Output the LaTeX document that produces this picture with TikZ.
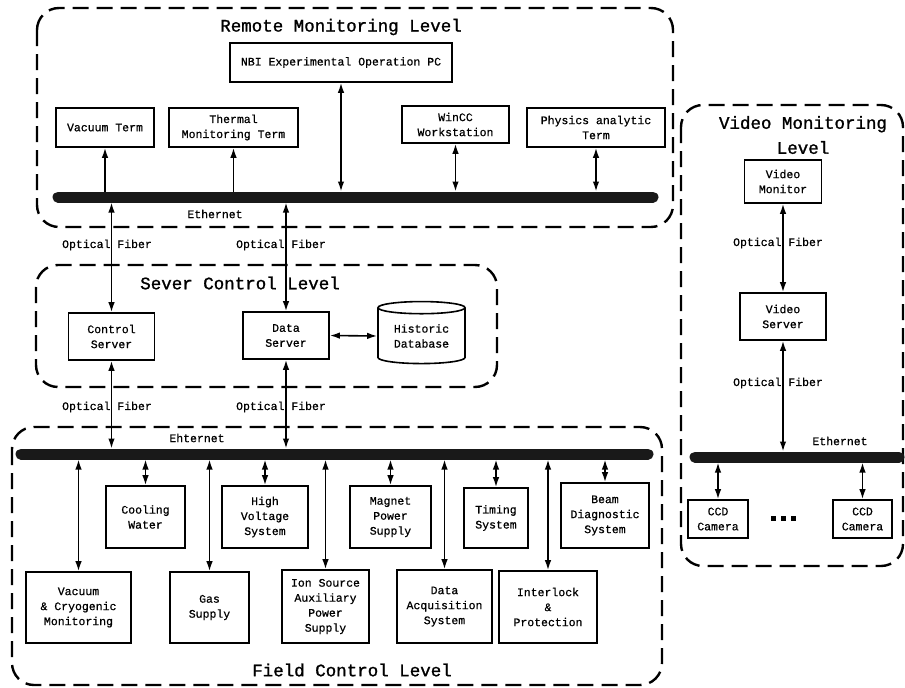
\documentclass[tikz,border=0pt]{standalone}
\usepackage{fontspec}
\setmainfont{Liberation Mono}
\newfontfamily\boxfont[FakeBold=0.7]{Liberation Mono}
\newfontfamily\titlefont[FakeBold=1.2]{Liberation Mono}
\usetikzlibrary{arrows.meta,shapes.geometric}
\begin{document}
\begin{tikzpicture}[x=1pt,y=-1pt,
  level/.style={draw, line width=2.4pt, dash pattern=on 16pt off 8pt, rounded corners=22pt},
  bx/.style={draw, line width=1.6pt, align=center, font=\boxfont\fontsize{11.5}{15}\selectfont, inner sep=0pt},
  bus/.style={line width=11pt, line cap=round, black!90},
  lbl/.style={font=\boxfont\fontsize{11.5}{14}\selectfont, inner sep=0pt},
  ttl/.style={font=\titlefont\fontsize{17.5}{25}\selectfont, align=center, inner sep=0pt},
  arr/.style={line width=1.6pt, {Latex[length=10pt,width=6.5pt]}-{Latex[length=10pt,width=6.5pt]}},
  uarr/.style={line width=1.6pt, -{Latex[length=10pt,width=6.5pt]}},
]
\useasboundingbox (0,0) rectangle (905,688);

% ---------- level frames ----------
\draw[level] (37,8) rectangle (673,227);
\draw[level] (36,265) rectangle (497,387);
\draw[level] (12,427) rectangle (662,685);
\draw[level] (681,105) rectangle (903,566);

% ---------- titles ----------
\node[ttl] (tRemote) at (341,27) {Remote Monitoring Level};
\node[ttl] (tServer) at (240,283) {Sever Control Level};
\node[ttl] (tField) at (352,670) {Field Control Level};
\node[ttl] (tVideo) at (803,135) {Video Monitoring\\Level};

% ---------- Remote monitoring level ----------
\coordinate (rb1) at (58,197);
\coordinate (rb2) at (653,197);
\coordinate (rbT) at (0,191.5);
\coordinate (rbB) at (0,202.5);
\draw[bus] (rb1) -- (rb2);
\node[lbl] (eth1) at (215,214) {Ethernet};

\node[bx, minimum width=222pt, minimum height=39pt] (nbi) at (341,62.5) {NBI Experimental Operation PC};
\node[bx, minimum width=98pt, minimum height=39pt] (vt) at (105,127.5) {Vacuum Term};
\node[bx, minimum width=129pt, minimum height=39pt] (tt) at (233.5,127.5) {Thermal\\Monitoring Term};
\node[bx, minimum width=107pt, minimum height=37pt] (wc) at (455.5,124.5) {WinCC\\Workstation};
\node[bx, minimum width=138pt, minimum height=39pt] (pa) at (596,127.5) {Physics analytic\\Term};

\draw[uarr] (vt.south |- rbT) -- (vt.south);
\draw[uarr] (tt.south |- rbT) -- (tt.south);
\draw[arr] (nbi.south |- rbT) -- (nbi.south);
\draw[arr] (wc.south |- rbT) -- (wc.south);
\draw[arr] (pa.south |- rbT) -- (pa.south);

% ---------- Server control level ----------
\node[bx, minimum width=86pt, minimum height=47pt] (cs) at (111.5,336.5) {Control\\Server};
\node[bx, minimum width=86pt, minimum height=47pt] (ds) at (286,335.5) {Data\\Server};
\node[draw, line width=1.6pt, cylinder, shape border rotate=90, aspect=0.22,
      minimum width=87pt, minimum height=62pt, inner sep=0pt, align=center,
      font=\boxfont\fontsize{11.5}{15}\selectfont] (db) at (421.5,336) {Historic\\Database};
\draw[arr] (ds.east) -- (db.west);

\coordinate (fb1) at (21,454);
\coordinate (fb2) at (648,454);
\coordinate (fbT) at (0,448.5);
\coordinate (fbB) at (0,459.5);

\draw[arr] (cs.north |- rbB) -- (cs.north);
\draw[arr] (ds.north |- rbB) -- (ds.north);
\draw[arr] (cs.south |- fbT) -- (cs.south);
\draw[arr] (ds.south |- fbT) -- (ds.south);

\node[lbl] (of1) at (107,245) {Optical Fiber};
\node[lbl] (of2) at (281,245) {Optical Fiber};
\node[lbl] (of3) at (107,407) {Optical Fiber};
\node[lbl] (of4) at (281,407) {Optical Fiber};

% ---------- Field control level ----------
\draw[bus] (fb1) -- (fb2);
\node[lbl] (eth2) at (197,438) {Ehternet};

\node[bx, minimum width=79pt, minimum height=62pt] (cw) at (145.5,517) {Cooling\\Water};
\node[bx, minimum width=86pt, minimum height=62pt] (hv) at (265,517) {High\\Voltage\\System};
\node[bx, minimum width=81pt, minimum height=62pt] (mp) at (390.5,517) {Magnet\\Power\\Supply};
\node[bx, minimum width=64pt, minimum height=60pt] (ts) at (496,518) {Timing\\System};
\node[bx, minimum width=88pt, minimum height=65pt] (bd) at (605,515.5) {Beam\\Diagnostic\\System};

\node[bx, minimum width=105pt, minimum height=71pt] (vc) at (78.5,607.5) {Vacuum\\\& Cryogenic\\Monitoring};
\node[bx, minimum width=79pt, minimum height=71pt] (gs) at (209.5,607.5) {Gas\\Supply};
\node[bx, minimum width=87pt, minimum height=73pt] (is) at (325.5,606.5) {Ion Source\\Auxiliary\\Power\\Supply};
\node[bx, minimum width=95pt, minimum height=73pt] (da) at (444.5,606.5) {Data\\Acquisition\\System};
\node[bx, minimum width=98pt, minimum height=72pt] (il) at (548,607) {Interlock\\\&\\Protection};

\foreach \n in {cw,hv,mp,ts,bd,vc,gs,is,da,il}
  \draw[arr] (\n.north |- fbB) -- (\n.north);

% ---------- Video monitoring level ----------
\node[bx, minimum width=77pt, minimum height=43pt] (vm) at (783,181.5) {Video\\Monitor};
\node[bx, minimum width=86pt, minimum height=47pt] (vs) at (783,316.5) {Video\\Server};
\coordinate (vb1) at (695,457);
\coordinate (vb2) at (899,457);
\coordinate (vbT) at (0,451.5);
\coordinate (vbB) at (0,462.5);
\draw[bus] (vb1) -- (vb2);
\node[lbl] (eth3) at (840,441) {Ethernet};

\draw[arr] (vm.south) -- (vs.north);
\draw[arr] (vs.south) -- (vs.south |- vbT);
\node[lbl] (of5) at (778,243) {Optical Fiber};
\node[lbl] (of6) at (778,383) {Optical Fiber};

\node[bx, minimum width=60pt, minimum height=38pt] (cc1) at (718,519) {CCD\\Camera};
\node[bx, minimum width=59pt, minimum height=38pt] (cc2) at (862.5,519) {CCD\\Camera};
\draw[arr] (cc1.north |- vbB) -- (cc1.north);
\draw[arr] (cc2.north |- vbB) -- (cc2.north);

\foreach \dx [count=\i] in {-10,0,10}
  \node[fill=black, minimum size=5pt, inner sep=0pt] (dot\i) at (783+\dx,518) {};
\end{tikzpicture}
\end{document}
